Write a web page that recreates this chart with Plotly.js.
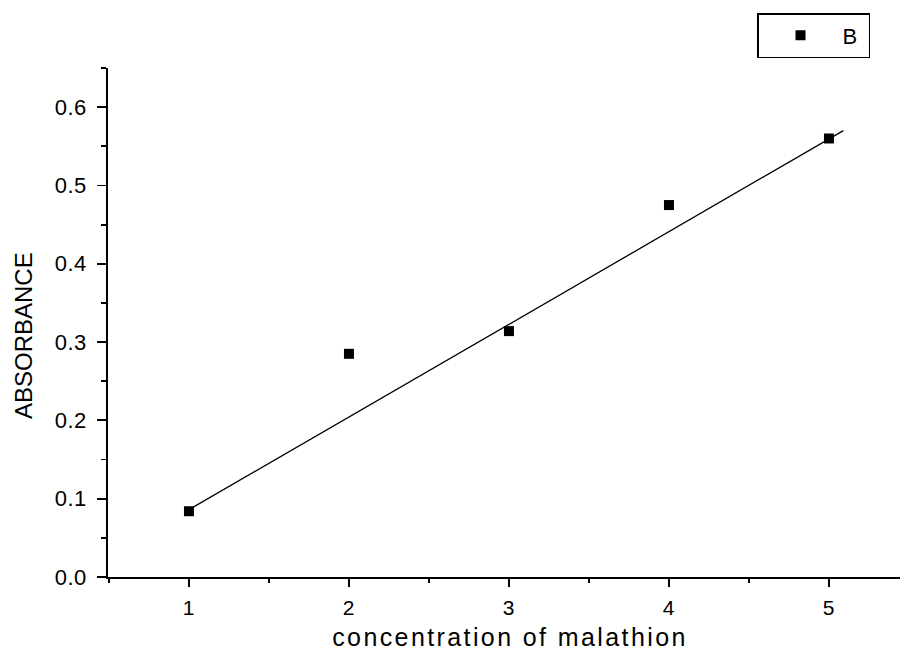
<!DOCTYPE html>
<html>
<head>
<meta charset="utf-8">
<script src="https://cdn.plot.ly/plotly-3.0.1.min.js"></script>
<style>
html,body{margin:0;padding:0;background:#fff;}
#chart{width:900px;height:650px;}
#chart .annotation-text.xt{letter-spacing:2.4px;}
#chart .ytick text, #chart .xtick text{letter-spacing:0.5px;}
#chart .legendtext{letter-spacing:1.5px;}
</style>
</head>
<body>
<div id="chart"></div>
<script>
// Data
const concentration = [1, 2, 3, 4, 5];
const absorbance = [0.084, 0.285, 0.314, 0.475, 0.560];
const fitX = [1, 5.09];
const fitY = [0.086, 0.570];
const xTickVals = [1, 2, 3, 4, 5];
const yTickVals = [0.0, 0.1, 0.2, 0.3, 0.4, 0.5, 0.6];
const yTickText = ["0.0", "0.1", "0.2", "0.3", "0.4", "0.5", "0.6"];
const seriesName = 'B';
const xTitle = 'concentration of malathion';
const yTitle = 'ABSORBANCE';

const font = 'Liberation Sans, Arial, sans-serif';

const traces = [
  {
    x: concentration, y: absorbance, name: seriesName + '\u00a0', type: 'scatter', mode: 'markers',
    marker: {symbol: 'square', size: 10, color: '#000'}, showlegend: true
  },
  {
    x: fitX, y: fitY, type: 'scatter', mode: 'lines',
    line: {color: '#000', width: 1.3}, showlegend: false, hoverinfo: 'skip'
  }
];

const layout = {
  width: 900, height: 650,
  margin: {l: 108, r: 0, t: 68, b: 73},
  paper_bgcolor: '#fff', plot_bgcolor: '#fff',
  font: {family: font, color: '#000', size: 16},
  showlegend: true,
  legend: {
    x: (757 - 108) / 792, y: 1 - 13 / 650, xanchor: 'left', yanchor: 'top', yref: 'container',
    bgcolor: '#fff', bordercolor: '#000', borderwidth: 1.5,
    font: {family: font, size: 22, color: '#000'},
    itemwidth: 74, tracegroupgap: 0
  },
  xaxis: {
    range: [0.494, 5.444], showgrid: false, zeroline: false,
    showline: true, linecolor: '#000', linewidth: 1.8,
    ticks: 'outside', ticklen: 8, tickwidth: 1.8, tickcolor: '#000',
    tickmode: 'array', tickvals: xTickVals,
    minor: {ticks: 'outside', ticklen: 4, tickwidth: 1.8, tickcolor: '#000', dtick: 0.5, tick0: 0.5, showgrid: false},
    tickfont: {family: font, size: 21, color: '#000'},
    ticklabelstandoff: 3
  },
  yaxis: {
    range: [0, 0.65], showgrid: false, zeroline: false,
    showline: true, linecolor: '#000', linewidth: 1.8,
    ticks: 'outside', ticklen: 9, tickwidth: 1.8, tickcolor: '#000',
    tickmode: 'array', tickvals: yTickVals, ticktext: yTickText,
    minor: {ticks: 'outside', ticklen: 5, tickwidth: 1.8, tickcolor: '#000', dtick: 0.05, tick0: 0.05, showgrid: false},
    tickfont: {family: font, size: 22, color: '#000'},
    ticklabelstandoff: 6
  },
  annotations: [
    {
      text: yTitle, textangle: -90, showarrow: false,
      xref: 'paper', yref: 'paper',
      x: (23 - 108) / 792, y: (577 - 336) / 509,
      xanchor: 'center', yanchor: 'middle',
      font: {family: font, size: 24, color: '#000'}
    },
    {
      text: xTitle, showarrow: false, captureevents: false,
      xref: 'paper', yref: 'paper',
      x: (510 - 108) / 792, y: (577 - 637) / 509,
      xanchor: 'center', yanchor: 'middle', width: 420, height: 24, valign: 'middle', align: 'center',
      font: {family: font, size: 25, color: '#000'}
    }
  ]
};

Plotly.newPlot('chart', traces, layout, {displayModeBar: false, staticPlot: true}).then(function () {
  const t = document.querySelectorAll('#chart .annotation-text');
  if (t.length > 1) t[1].classList.add('xt');
});
</script>
</body>
</html>
